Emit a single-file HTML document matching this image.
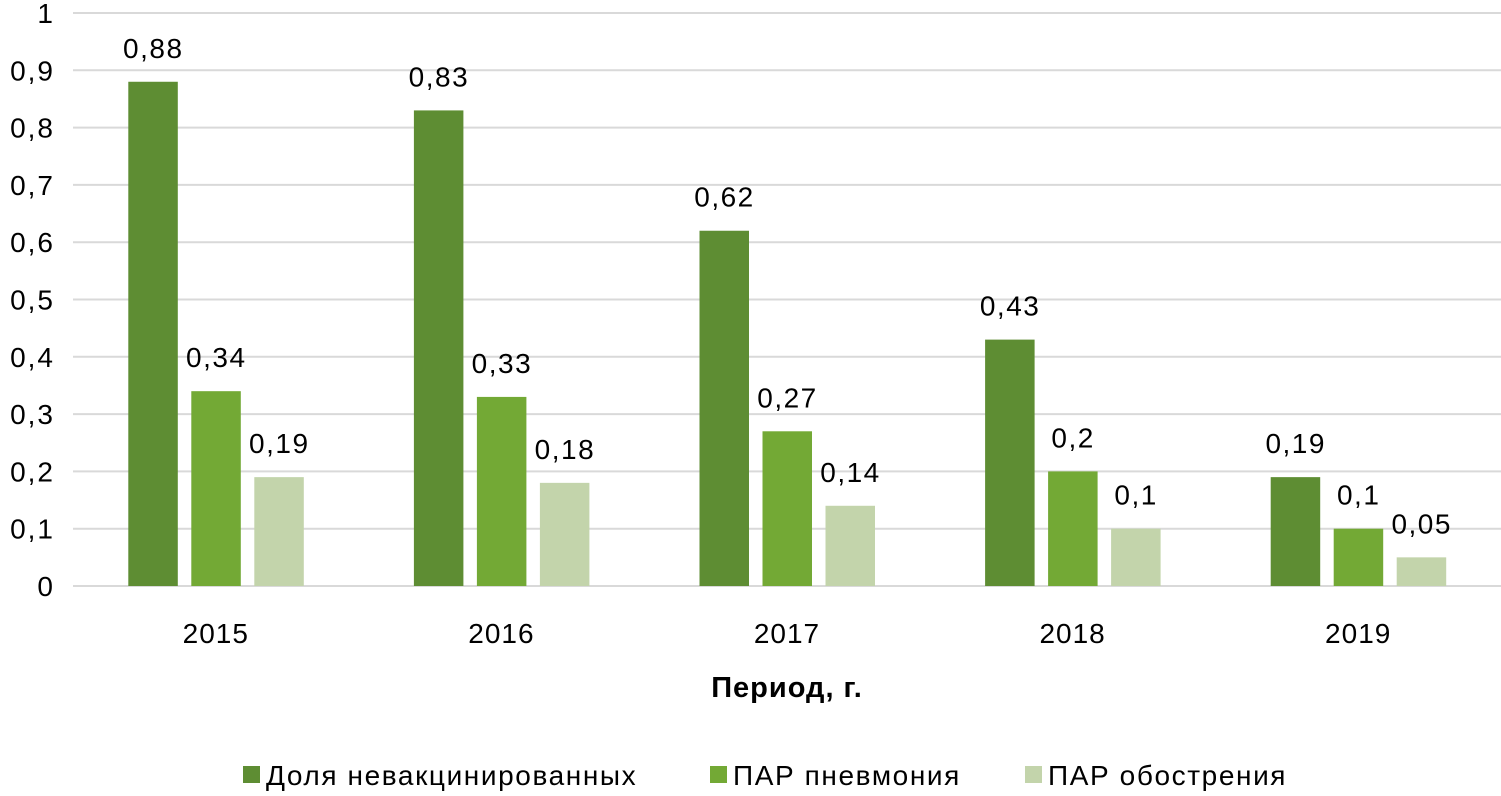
<!DOCTYPE html>
<html><head><meta charset="utf-8"><style>
body{margin:0;background:#fff;}
svg text{font-family:"Liberation Sans",sans-serif;fill:#000;}
</style></head><body>
<svg width="1501" height="791">
<g id="grid"></g><g id="bars"></g><g id="labels"></g>
<text x="787" y="697" font-size="29" font-weight="bold" letter-spacing="1" text-anchor="middle">Период, г.</text>
<g font-size="28" letter-spacing="1.6">
<rect x="243" y="766" width="17" height="17" fill="#5e8d33"/>
<text x="266" y="785">Доля невакцинированных</text>
<rect x="710" y="766" width="17" height="17" fill="#73a935"/>
<text x="733" y="785">ПАР пневмония</text>
<rect x="1025" y="766" width="17" height="17" fill="#c3d4ab"/>
<text x="1048" y="785">ПАР обострения</text>
</g>
</svg>
<script>
const categories=["2015","2016","2017","2018","2019"];
const unvaccinated=[0.88,0.83,0.62,0.43,0.19];
const pneumonia=[0.34,0.33,0.27,0.2,0.1];
const exacerbation=[0.19,0.18,0.14,0.1,0.05];
const yTicks=[0,0.1,0.2,0.3,0.4,0.5,0.6,0.7,0.8,0.9,1];
const series=[unvaccinated,pneumonia,exacerbation];
const seriesNames=["unvaccinated","pneumonia","exacerbation"];
const colors=["#5e8d33","#73a935","#c3d4ab"];
const NS="http://www.w3.org/2000/svg";
const x0=73,x1=1501,y0=586,y1=13;
const y=v=>y0-(v/1)*(y0-y1);
const bw=(x1-x0)/categories.length;
const fmt=v=>String(v).replace('.',',');
function mk(tag,attrs,parent,txt){const e=document.createElementNS(NS,tag);for(const k in attrs)e.setAttribute(k,attrs[k]);if(txt!==undefined)e.textContent=txt;document.getElementById(parent).appendChild(e);return e;}
yTicks.forEach(t=>{
 const l=mk('line',{x1:x0,x2:x1,y1:y(t),y2:y(t),stroke:'#d9d9d9','stroke-width':2},'grid');
 
 
 const tx=mk('text',{x:55,y:y(t)+10,'font-size':28,'letter-spacing':2,'text-anchor':'end'},'labels',fmt(t));
 
 
});
categories.forEach((c,i)=>{
 const cx=x0+bw*(i+0.5);
 const tx=mk('text',{x:cx,y:643,'font-size':28,'letter-spacing':1,'text-anchor':'middle'},'labels',c);
 
 
 series.forEach((s,j)=>{
  const left=cx-87.5+j*63;
  const r=mk('rect',{x:left,y:y(s[i]),width:49.5,height:y0-y(s[i]),fill:colors[j]},'bars');
  
  
  const lb=mk('text',{x:left+25,y:y(s[i])-24,'font-size':28,'letter-spacing':1.5,'text-anchor':'middle'},'labels',fmt(s[i]));
  
  
 });
});
</script>
</body></html>
